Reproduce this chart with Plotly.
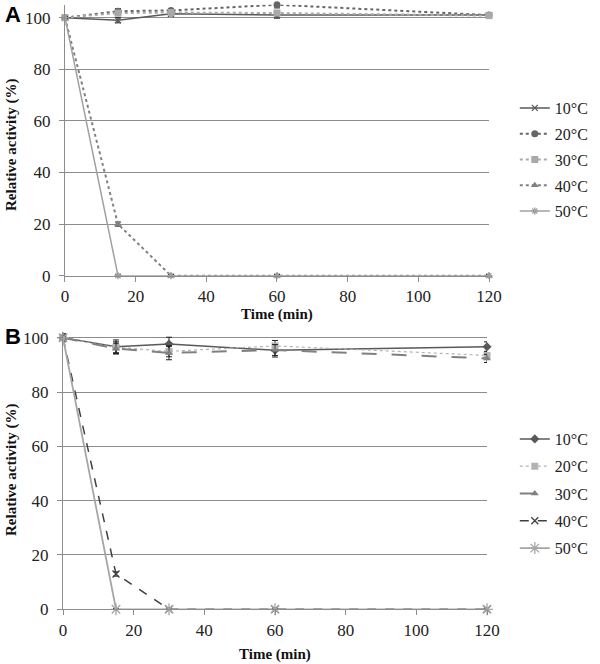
import plotly.graph_objects as go

time = [0, 15, 30, 60, 120]
labels = ["10°C", "20°C", "30°C", "40°C", "50°C"]

# Panel A values (%)
a_10 = [100, 99, 101.5, 101, 101]
a_20 = [100, 102.5, 102.8, 105, 101]
a_30 = [100, 101.8, 102, 101.8, 100.8]
a_40 = [100, 20, 0, 0, 0]
a_50 = [100, 0, 0, 0, 0]
a_err = [[0.5, 1.0, 0.8, 1.2, 0.5], [0.5, 1.0, 0.5, 1.2, 0.5],
         [0.5, 1.0, 0.5, 1.0, 0.5], [0.5, 0.8, 0.4, 0.4, 0.4], [0.3, 0.3, 0.3, 0.3, 0.3]]

# Panel B values (%)
b_10 = [100, 96.7, 97.7, 95.4, 96.7]
b_20 = [100, 96.5, 95, 97, 93.5]
b_30 = [100, 96, 94.4, 95.5, 92.4]
b_40 = [100, 13, 0, 0, 0]
b_50 = [100, 0, 0, 0, 0]
b_err = [[1.5, 2.5, 2.5, 2.5, 1.8], [1.0, 2.0, 2.0, 2.0, 1.5],
         [1.0, 2.0, 2.5, 2.0, 1.5], [0.8, 0.8, 0.5, 0.5, 0.5], [0.3, 0.3, 0.3, 0.3, 0.3]]

fig = go.Figure()

serif = "Times New Roman, Liberation Serif, DejaVu Serif, serif"

a_styles = [
    dict(color="#595959", dash="solid", width=1.5, symbol="x-thin", size=6),
    dict(color="#666666", dash="dot", width=2, symbol="circle", size=7),
    dict(color="#a9a9a9", dash="dot", width=2, symbol="square", size=7),
    dict(color="#808080", dash="dot", width=2, symbol="triangle-up", size=7),
    dict(color="#a0a0a0", dash="solid", width=1.5, symbol="asterisk", size=6),
]
b_styles = [
    dict(color="#595959", dash="solid", width=1.5, symbol="diamond", size=7),
    dict(color="#b3b3b3", dash="dot", width=1.2, symbol="square", size=7),
    dict(color="#808080", dash="longdash", width=2, symbol="triangle-up", size=7),
    dict(color="#404040", dash="dash", width=1.5, symbol="x-thin", size=7),
    dict(color="#a6a6a6", dash="solid", width=1.8, symbol="asterisk", size=10),
]

def add_series(vals_list, errs, styles, xa, ya, legend, prefix):
    for name, vals, err, st in zip(labels, vals_list, errs, styles):
        thin = st["symbol"] in ("x-thin", "asterisk")
        fig.add_trace(go.Scatter(
            x=time, y=vals, name=name, mode="lines+markers",
            xaxis=xa, yaxis=ya, legend=legend, legendgroup=prefix + name,
            cliponaxis=False,
            line=dict(color=st["color"], dash=st["dash"], width=st["width"]),
            marker=dict(symbol=st["symbol"], size=st["size"], color=st["color"],
                        line=dict(color=st["color"], width=1.3 if thin else 0)),
            error_y=dict(type="data", array=err, color="#222222", thickness=1, width=3),
        ))

add_series([a_10, a_20, a_30, a_40, a_50], a_err, a_styles, "x", "y", "legend", "a")
add_series([b_10, b_20, b_30, b_40, b_50], b_err, b_styles, "x2", "y2", "legend2", "b")

axis_common = dict(showline=True, linecolor="#8c8c8c", linewidth=1,
                   ticks="outside", ticklen=5, tickcolor="#8c8c8c",
                   tickfont=dict(family=serif, size=17, color="#222222"),
                   zeroline=False, automargin=False)

fig.update_layout(
    width=600, height=664,
    margin=dict(l=0, r=0, t=0, b=0, autoexpand=False),
    paper_bgcolor="white", plot_bgcolor="white",
    font=dict(family=serif),
    xaxis=dict(domain=[0.1083, 0.815], range=[0, 120], tickvals=[0, 20, 40, 60, 80, 100, 120],
               showgrid=False, anchor="y", **axis_common),
    yaxis=dict(domain=[0.5848, 0.9928], range=[0, 105], tickvals=[0, 20, 40, 60, 80, 100],
               showgrid=True, gridcolor="#8c8c8c", gridwidth=1, anchor="x",
               ticklabelstandoff=5, **axis_common),
    xaxis2=dict(domain=[0.105, 0.8117], range=[0, 120], tickvals=[0, 20, 40, 60, 80, 100, 120],
                showgrid=False, anchor="y2", **axis_common),
    yaxis2=dict(domain=[0.0824, 0.4995], range=[0, 102], tickvals=[0, 20, 40, 60, 80, 100],
                showgrid=True, gridcolor="#8c8c8c", gridwidth=1, anchor="x2",
                ticklabelstandoff=5, **axis_common),
    legend=dict(x=0.858, y=1 - 91 / 664, xanchor="left", yanchor="top", tracegroupgap=2,
                font=dict(family=serif, size=16, color="#222222"), bgcolor="rgba(0,0,0,0)"),
    legend2=dict(x=0.858, y=1 - 422 / 664, xanchor="left", yanchor="top", tracegroupgap=3.5,
                 font=dict(family=serif, size=16, color="#222222"), bgcolor="rgba(0,0,0,0)"),
    showlegend=True,
)

bold_serif = dict(family=serif, size=15, color="#111111")
ann = [
    dict(text="<b>A</b>", x=3 / 600, y=1 - 15 / 664, xanchor="left", yanchor="middle",
         font=dict(family="Arial, Liberation Sans, sans-serif", size=22, color="black")),
    dict(text="<b>B</b>", x=3 / 600, y=1 - 336 / 664, xanchor="left", yanchor="middle",
         font=dict(family="Arial, Liberation Sans, sans-serif", size=22, color="black")),
    dict(text="<b>Relative activity (%)</b>", x=11 / 600, y=1 - 145 / 664, textangle=-90,
         xanchor="center", yanchor="middle", font=bold_serif),
    dict(text="<b>Relative activity (%)</b>", x=11 / 600, y=1 - 470 / 664, textangle=-90,
         xanchor="center", yanchor="middle", font=bold_serif),
    dict(text="<b>Time (min)</b>", x=277 / 600, y=1 - 314 / 664,
         xanchor="center", yanchor="middle", font=bold_serif),
    dict(text="<b>Time (min)</b>", x=275 / 600, y=1 - 654 / 664,
         xanchor="center", yanchor="middle", font=bold_serif),
]
for a in ann:
    a.update(xref="paper", yref="paper", showarrow=False)
fig.update_layout(annotations=ann)

fig.write_html("out.html", config={"displayModeBar": False},
               post_script="document.body.style.margin='0';document.body.style.overflow='hidden';")
